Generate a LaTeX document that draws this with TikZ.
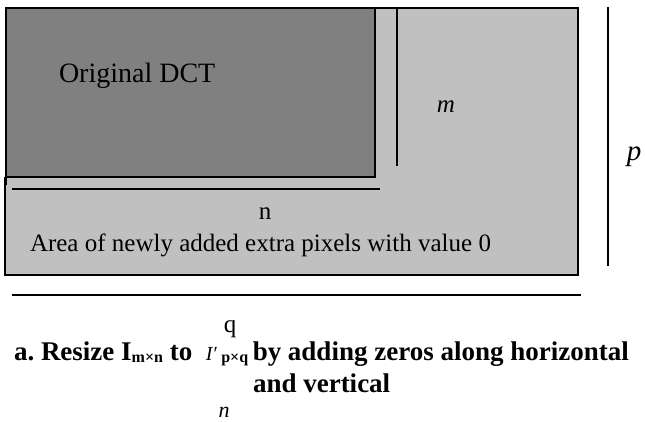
\documentclass[tikz,border=0pt]{standalone}
\usepackage{fontspec}
\setmainfont{Liberation Serif}
\definecolor{darkfill}{HTML}{808080}
\definecolor{lightfill}{HTML}{C0C0C0}
\newcommand{\fsz}[1]{\fontsize{#1}{#1}\selectfont}
\frenchspacing
\begin{document}
\begin{tikzpicture}[x=1pt,y=-1pt,
  thinline/.style={line width=1.3pt},
  thickline/.style={line width=2.4pt},
  lbl/.style={inner sep=0pt,outer sep=0pt}]
\useasboundingbox (0,0) rectangle (645,421);
% outer padded area
\fill[lightfill] (5,8) rectangle (578,275);
\draw[thinline] (5,177) -- (5,275) -- (518,275);
\draw[thickline] (518,275) -- (578,275) -- (578,8) -- (375,8);
% original DCT block
\draw[thickline,fill=darkfill] (6,8) rectangle (375,177);
\draw[thickline] (6,177) -- (6,185);
% dimension lines
\coordinate (nL) at (12,189);
\coordinate (nR) at (380,189);
\draw[line width=2pt] (nL) -- (nR);
\coordinate (mT) at (397,8);
\coordinate (mB) at (397,166);
\draw[line width=1.4pt] (mT) -- (mB);
\coordinate (pT) at (608,7);
\coordinate (pB) at (608,266);
\draw[line width=1.4pt] (pT) -- (pB);
\coordinate (qL) at (12,295);
\coordinate (qR) at (581,295);
\draw[line width=2.8pt] (qL) -- (qR);
% labels
\node[lbl,anchor=base west] (orig) at (59,82) {\fsz{28}Original DCT};
\node[lbl,anchor=base] (mlab) at (446,112) {\fsz{25}\itshape m};
\node[lbl,anchor=base] (plab) at (634,160) {\fsz{29}\itshape p};
\node[lbl,anchor=base] (nlab) at (265,219) {\fsz{25}n};
\node[lbl,anchor=base west] (area) at (30,251) {\fsz{25}Area of newly added extra pixels with value 0};
\node[lbl,anchor=base] (qcap) at (230,332) {\fsz{25}q};
\node[lbl,anchor=base west] (cap1) at (14,360) {\fsz{27}\bfseries a. Resize I\raisebox{-0.2ex}{\fsz{16}m×n} to\ \ {\mdseries\itshape\fsz{20}I′}\,\raisebox{-0.2ex}{\fsz{16}p×q}\,by adding zeros along horizontal};
\node[lbl,anchor=base west] (cap2) at (253,392) {\fsz{27}\bfseries and vertical};
\node[lbl,anchor=base] (ncap) at (224,417) {\fsz{22}\itshape n};
\end{tikzpicture}
\end{document}
